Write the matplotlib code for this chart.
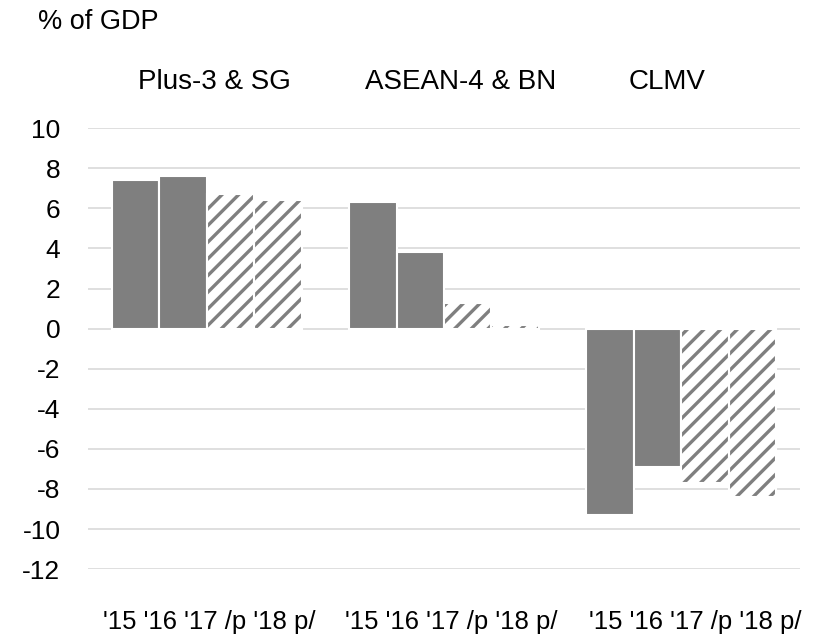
import matplotlib
matplotlib.use('Agg')
import matplotlib.pyplot as plt
import numpy as np

plt.rcParams['font.family'] = ['Liberation Sans', 'DejaVu Sans']
plt.rcParams['hatch.linewidth'] = 2.4

groups = ['Plus-3 & SG', 'ASEAN-4 & BN', 'CLMV']
years = ["'15", "'16", "'17 /p", "'18 p/"]
v15 = [7.4, 6.3, -9.3]
v16 = [7.6, 3.8, -6.9]
v17 = [6.7, 1.3, -7.7]
v18 = [6.4, 0.2, -8.4]
series = [v15, v16, v17, v18]
yticks = list(range(-12, 11, 2))

gray = '#7f7f7f'

fig = plt.figure(figsize=(8.17, 6.38), dpi=100)
ax = fig.add_axes([0.108, 0.108, 0.871, 0.691])

x = np.arange(len(groups))
w = 0.2
for i, vals in enumerate(series):
    pos = x + (i - 1.5) * w
    if i < 2:
        ax.bar(pos, vals, w, color=gray, edgecolor='white', linewidth=1.5, zorder=3)
    else:
        ax.bar(pos, vals, w, color='white', edgecolor=gray, hatch='//', linewidth=0, zorder=3)
        # thin white separators between hatched bars
        ax.bar(pos, vals, w, color='none', edgecolor='white', linewidth=1.5, zorder=4)

ax.set_xlim(-0.5, 2.5)
ax.set_ylim(-12, 10)
ax.set_yticks(yticks)
ax.set_yticklabels([str(t) for t in yticks])
ax.yaxis.grid(True, color='#d9d9d9', linewidth=1.2, zorder=0)
ax.set_axisbelow(True)
for s in ax.spines.values():
    s.set_visible(False)
ax.tick_params(axis='y', length=0, pad=20, labelsize=19)
ax.set_xticks([])

# year labels under each group (slightly offset like the original)
label_x = [0.01, 1.03, 2.06]
for lx in label_x:
    ax.text(lx, -14.65, ' '.join(years), ha='center', va='center', fontsize=18.5, clip_on=False)

title_x = [0.03, 1.07, 1.94]
for gx, g in zip(title_x, groups):
    ax.text(gx, 12.3, g, ha='center', va='center', fontsize=20, clip_on=False)

fig.text(38 / 817, 1 - 22 / 638, '% of GDP', ha='left', va='center', fontsize=19.5)

fig.savefig('out.png', dpi=100)
